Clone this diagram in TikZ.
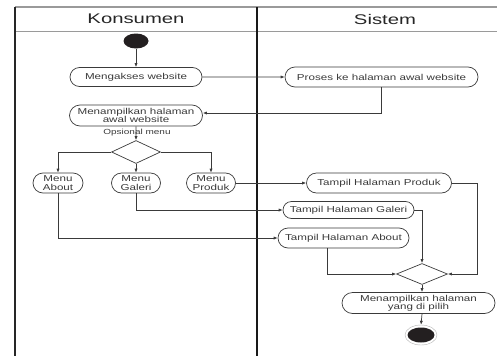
\documentclass[tikz,border=0pt]{standalone}
\usepackage{fontspec}
\usetikzlibrary{shapes.misc,shapes.geometric,arrows.meta}
\newfontfamily\nodefont[FakeStretch=1.35]{Liberation Sans}
\newfontfamily\headfont[FakeStretch=1.45]{Liberation Sans}
\definecolor{ink}{HTML}{3A3A3A}
\definecolor{frame}{HTML}{9A9A9A}
\definecolor{dot}{HTML}{231F20}
\begin{document}
\begin{tikzpicture}[x=1pt,y=-1pt,
  act/.style={rounded rectangle,draw=ink,line width=0.7pt,inner sep=0pt,
    font=\nodefont\fontsize{8.6}{8.4}\selectfont,text=ink,align=center},
  dec/.style={diamond,draw=ink,line width=0.7pt,inner sep=0pt,aspect=2.2},
  flow/.style={draw=ink,line width=0.7pt,-{Latex[length=4pt,width=3.2pt]}},
  plain/.style={draw=ink,line width=0.7pt},
  lbl/.style={font=\nodefont\fontsize{7.4}{8}\selectfont,text=ink,inner sep=0pt},
  head/.style={font=\headfont\fontsize{14}{14}\selectfont,text=black!85,inner sep=0pt}]
\useasboundingbox (0,0) rectangle (497,356);
% swimlane frame
\draw[frame,line width=1.2pt] (15,7) -- (497,7);
\draw[frame,line width=1.0pt] (15,31) -- (497,31);
\draw[black!85,line width=1.2pt] (15,7) -- (15,356);
\draw[black!90,line width=1.4pt] (257,7) -- (257,356);
\node[head] (hk) at (136,19) {Konsumen};
\node[head] (hs) at (385,19) {Sistem};
% nodes
\node[ellipse,fill=dot,minimum width=25pt,minimum height=15pt,inner sep=0pt] (start) at (136,41) {};
\node[act,minimum width=132pt,minimum height=19pt] (m1) at (136,77) {Mengakses website};
\node[act,minimum width=193pt,minimum height=20pt] (p1) at (381.5,77) {Proses ke halaman awal website};
\node[act,minimum width=133pt,minimum height=21pt] (m2) at (136,115.5) {Menampilkan halaman\\awal website};
\node[lbl] (op) at (137,132.5) {Opsional menu};
\node[dec,minimum width=49pt,minimum height=23pt] (d1) at (136,152) {};
\node[act,minimum width=50pt,minimum height=20pt] (ma) at (58,183) {Menu\\About};
\node[act,minimum width=49pt,minimum height=20pt] (mg) at (136,183) {Menu\\Galeri};
\node[act,minimum width=49pt,minimum height=20pt] (mp) at (211,183) {Menu\\Produk};
\node[act,minimum width=145pt,minimum height=20pt] (tp) at (379,183) {Tampil Halaman Produk};
\node[act,minimum width=131pt,minimum height=17pt] (tg) at (348.5,210) {Tampil Halaman Galeri};
\node[act,minimum width=131pt,minimum height=20pt] (ta) at (343.5,238) {Tampil Halaman About};
\node[dec,minimum width=51pt,minimum height=21pt] (d2) at (422,274) {};
\node[act,minimum width=153pt,minimum height=21pt] (mh) at (418.5,303) {Menampilkan halaman\\yang di pilih};
\node[ellipse,draw=black!30,line width=0.4pt,minimum width=32pt,minimum height=20pt,inner sep=0pt] (endring) at (421,335) {};
\node[ellipse,fill=dot,minimum width=27pt,minimum height=15pt,inner sep=0pt] (end) at (421,335) {};
% connectors
\draw[flow] (start) -- (m1);
\draw[flow] (m1) -- (p1);
\draw[flow] (p1.south) |- ([yshift=2.5pt]m2.east);
\draw[flow] (m2) -- (d1);
\draw[flow] (d1.west) -| (ma.north);
\draw[flow] (d1.south) -- (mg.north);
\draw[flow] (d1.east) -| (mp.north);
\draw[flow] (mp.east) -- (tp.west);
\draw[flow] (mg.south) |- (tg.west);
\draw[flow] (ma.south) |- (ta.west);
\draw[flow] (tg.east) -| (d2.north);
\draw[flow] ([xshift=-16.5pt]ta.south) |- (d2.west);
\coordinate (tpr) at ([xshift=25.5pt]tp.east);
\draw[plain] (tp.east) -- (tpr);
\draw[flow] (tpr) |- (d2.east);
\draw[flow] (d2.south) -- (d2.south |- mh.north);
\draw[flow] (mh.south -| d2.south) -- (endring.north);
\end{tikzpicture}
\end{document}
